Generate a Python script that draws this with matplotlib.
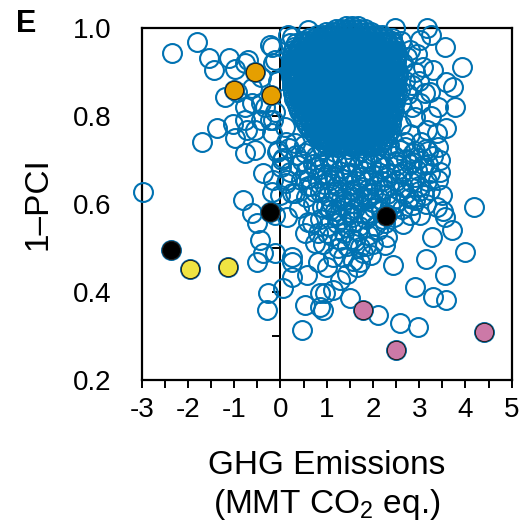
import numpy as np
import matplotlib
matplotlib.use("Agg")
import matplotlib.pyplot as plt

plt.rcParams.update({
    "font.family": ["Liberation Sans", "DejaVu Sans"],
    "mathtext.fontset": "custom",
    "mathtext.rm": "Liberation Sans",
    "mathtext.it": "Liberation Sans:italic",
    "axes.unicode_minus": False,
    "font.size": 20,
})
BLUE = "#0072B2"

# dense core of the cloud: one y level per row, x centres read across it
core_y = [1.004, 0.997, 0.990, 0.984, 0.978, 0.971, 0.965, 0.958, 0.951, 0.944,
          0.937, 0.930, 0.923, 0.916, 0.909, 0.902, 0.895, 0.888, 0.881, 0.874,
          0.867, 0.860, 0.853, 0.846, 0.839, 0.832, 0.825, 0.818, 0.811, 0.804,
          0.797, 0.790, 0.783, 0.776, 0.769, 0.762, 0.755, 0.748, 0.741, 0.734]
core_x = [
    [1.42, 1.55, 1.67],
    [1.2, 1.32, 1.45, 1.58, 1.7, 1.82],
    [0.98, 1.11, 1.23, 1.35, 1.46, 1.58, 1.71, 1.84, 1.96],
    [0.8, 0.92, 1.04, 1.15, 1.27, 1.38, 1.5, 1.62, 1.73, 1.85, 1.97, 2.09, 2.2],
    [0.62, 0.75, 0.86, 0.98, 1.09, 1.21, 1.32, 1.44, 1.55, 1.67, 1.78, 1.9, 2.03, 2.15, 2.29, 2.42],
    [0.48, 0.6, 0.71, 0.82, 0.93, 1.05, 1.16, 1.27, 1.38, 1.49, 1.61, 1.72, 1.83, 1.95, 2.06, 2.18, 2.3, 2.41],
    [0.34, 0.47, 0.58, 0.7, 0.81, 0.92, 1.04, 1.15, 1.27, 1.38, 1.5, 1.61, 1.72, 1.84, 1.95, 2.07, 2.19, 2.31, 2.44],
    [0.3, 0.41, 0.53, 0.64, 0.76, 0.87, 0.98, 1.1, 1.21, 1.32, 1.44, 1.55, 1.67, 1.78, 1.89, 2.01, 2.12, 2.24, 2.36, 2.48],
    [0.27, 0.39, 0.51, 0.62, 0.74, 0.85, 0.97, 1.08, 1.2, 1.31, 1.43, 1.54, 1.66, 1.77, 1.89, 2.0, 2.12, 2.23, 2.35, 2.47],
    [0.25, 0.36, 0.48, 0.59, 0.7, 0.82, 0.93, 1.05, 1.16, 1.28, 1.39, 1.51, 1.62, 1.74, 1.85, 1.97, 2.08, 2.2, 2.31, 2.43, 2.53],
    [0.24, 0.34, 0.45, 0.57, 0.68, 0.8, 0.91, 1.03, 1.14, 1.26, 1.37, 1.49, 1.6, 1.72, 1.83, 1.95, 2.06, 2.18, 2.29, 2.41, 2.52],
    [0.23, 0.32, 0.43, 0.55, 0.66, 0.78, 0.89, 1.01, 1.12, 1.24, 1.35, 1.47, 1.58, 1.7, 1.81, 1.93, 2.04, 2.16, 2.27, 2.39, 2.51],
    [0.22, 0.31, 0.42, 0.54, 0.65, 0.77, 0.88, 1.0, 1.11, 1.23, 1.34, 1.46, 1.57, 1.69, 1.8, 1.92, 2.03, 2.15, 2.26, 2.38, 2.5],
    [0.23, 0.3, 0.41, 0.52, 0.64, 0.75, 0.87, 0.98, 1.1, 1.21, 1.33, 1.44, 1.56, 1.67, 1.79, 1.9, 2.02, 2.13, 2.25, 2.36, 2.48],
    [0.22, 0.29, 0.4, 0.51, 0.63, 0.74, 0.86, 0.97, 1.09, 1.2, 1.32, 1.43, 1.55, 1.66, 1.78, 1.89, 2.01, 2.12, 2.24, 2.35, 2.46],
    [0.21, 0.28, 0.39, 0.5, 0.62, 0.73, 0.85, 0.96, 1.08, 1.19, 1.31, 1.42, 1.54, 1.65, 1.77, 1.88, 2.0, 2.11, 2.23, 2.34, 2.46, 2.55],
    [0.22, 0.28, 0.39, 0.5, 0.61, 0.72, 0.84, 0.95, 1.06, 1.18, 1.29, 1.41, 1.52, 1.64, 1.75, 1.87, 1.98, 2.1, 2.21, 2.33, 2.44, 2.55],
    [0.23, 0.29, 0.4, 0.51, 0.63, 0.74, 0.86, 0.97, 1.09, 1.2, 1.32, 1.43, 1.55, 1.66, 1.78, 1.89, 2.01, 2.12, 2.24, 2.35, 2.47],
    [0.24, 0.3, 0.41, 0.53, 0.64, 0.76, 0.87, 0.99, 1.1, 1.22, 1.33, 1.45, 1.56, 1.68, 1.79, 1.91, 2.02, 2.14, 2.25, 2.37, 2.48],
    [0.25, 0.31, 0.43, 0.54, 0.66, 0.77, 0.89, 1.0, 1.12, 1.23, 1.35, 1.46, 1.58, 1.69, 1.81, 1.92, 2.04, 2.15, 2.27, 2.38, 2.49],
    [0.26, 0.33, 0.44, 0.56, 0.67, 0.79, 0.9, 1.02, 1.13, 1.25, 1.36, 1.48, 1.59, 1.71, 1.82, 1.94, 2.05, 2.17, 2.28, 2.4, 2.5],
    [0.27, 0.35, 0.47, 0.58, 0.7, 0.81, 0.93, 1.04, 1.16, 1.27, 1.39, 1.5, 1.62, 1.73, 1.85, 1.96, 2.08, 2.19, 2.31, 2.42, 2.52],
    [0.28, 0.37, 0.49, 0.6, 0.72, 0.83, 0.95, 1.06, 1.18, 1.29, 1.41, 1.52, 1.64, 1.75, 1.87, 1.98, 2.1, 2.21, 2.33, 2.46],
    [0.29, 0.4, 0.51, 0.63, 0.74, 0.86, 0.97, 1.09, 1.2, 1.32, 1.43, 1.55, 1.66, 1.78, 1.89, 2.01, 2.12, 2.24, 2.35, 2.45],
    [0.3, 0.42, 0.53, 0.65, 0.76, 0.88, 0.99, 1.11, 1.22, 1.34, 1.45, 1.57, 1.68, 1.8, 1.91, 2.03, 2.14, 2.26, 2.37, 2.47],
    [0.33, 0.44, 0.56, 0.67, 0.79, 0.9, 1.02, 1.13, 1.25, 1.36, 1.48, 1.59, 1.71, 1.82, 1.94, 2.05, 2.17, 2.28, 2.4, 2.48],
    [0.35, 0.47, 0.58, 0.7, 0.81, 0.93, 1.04, 1.16, 1.27, 1.39, 1.5, 1.62, 1.73, 1.85, 1.96, 2.08, 2.19, 2.31, 2.44],
    [0.38, 0.5, 0.61, 0.73, 0.84, 0.96, 1.07, 1.19, 1.3, 1.42, 1.53, 1.65, 1.76, 1.88, 1.99, 2.11, 2.22, 2.34, 2.44],
    [0.4, 0.52, 0.63, 0.75, 0.86, 0.98, 1.09, 1.21, 1.32, 1.44, 1.55, 1.67, 1.78, 1.9, 2.01, 2.13, 2.24, 2.36, 2.45],
    [0.44, 0.56, 0.67, 0.79, 0.9, 1.02, 1.13, 1.25, 1.36, 1.48, 1.59, 1.71, 1.82, 1.94, 2.05, 2.17, 2.28, 2.4],
    [0.48, 0.6, 0.71, 0.83, 0.94, 1.06, 1.17, 1.29, 1.4, 1.52, 1.63, 1.75, 1.86, 1.98, 2.09, 2.21, 2.32, 2.42],
    [0.52, 0.63, 0.75, 0.86, 0.98, 1.09, 1.21, 1.32, 1.44, 1.55, 1.67, 1.78, 1.9, 2.01, 2.13, 2.24, 2.36],
    [0.55, 0.67, 0.78, 0.9, 1.01, 1.13, 1.24, 1.36, 1.47, 1.59, 1.7, 1.82, 1.93, 2.05, 2.16, 2.28, 2.4],
    [0.6, 0.72, 0.84, 0.95, 1.07, 1.18, 1.3, 1.41, 1.53, 1.64, 1.76, 1.87, 1.99, 2.1, 2.22, 2.33],
    [0.66, 0.78, 0.89, 1.01, 1.12, 1.24, 1.35, 1.47, 1.58, 1.7, 1.81, 1.93, 2.04, 2.16, 2.27, 2.36],
    [0.72, 0.84, 0.95, 1.07, 1.18, 1.3, 1.41, 1.53, 1.64, 1.76, 1.87, 1.99, 2.1, 2.22, 2.32],
    [0.78, 0.9, 1.01, 1.13, 1.24, 1.36, 1.47, 1.59, 1.7, 1.82, 1.93, 2.05, 2.16, 2.3],
    [0.85, 0.97, 1.08, 1.2, 1.31, 1.43, 1.54, 1.66, 1.77, 1.89, 2.0, 2.12, 2.24],
    [0.92, 1.04, 1.15, 1.27, 1.38, 1.5, 1.61, 1.73, 1.84, 1.96, 2.08, 2.2],
    [1.0, 1.12, 1.23, 1.35, 1.46, 1.58, 1.69, 1.81, 1.92, 2.04, 2.15],
]

# looser band under the core
mesh_x = [-0.08, 0.06, 0.18, 0.33, 0.47, 0.62, 0.78, 0.92, 1.05, 1.18, 1.33, 1.47, 1.6, 1.74,
          1.88, 2.02, 2.16, 2.3, 2.45, 2.58, 2.72, 2.86, 3.0, 3.14, 3.3,
          0.02, 0.2, 0.38, 0.55, 0.7, 0.86, 1.0, 1.12, 1.26, 1.4, 1.53, 1.67, 1.81, 1.95,
          2.1, 2.24, 2.38, 2.52, 2.66, 2.8, 2.95, 3.1, 3.24,
          -0.15, 0.12, 0.45, 0.66, 0.8, 0.95, 1.08, 1.22, 1.36, 1.5, 1.63, 1.77, 1.9, 2.05,
          2.2, 2.35, 2.5, 2.65, 2.82, 3.0, 3.18,
          0.0, 0.32, 0.55, 0.75, 1.02, 1.15, 1.3, 1.44, 1.58, 1.7, 1.84, 2.0, 2.15, 2.3,
          2.45, 2.7, 2.9, 3.1,
          0.4, 0.7, 0.98, 1.18, 1.33, 1.46, 1.62, 1.78, 2.02, 2.18, 2.38, 2.62, 2.86, 3.15,
          0.6, 0.85, 1.03, 1.3, 1.42, 1.57, 1.7, 1.85, 2.05, 2.22, 2.45, 2.65,
          0.82, 1.12, 1.38, 1.55, 1.68, 1.9, 2.12,
          0.92, 1.25, 1.45, 1.62, 1.85, 2.0,
          1.35, 1.58, 1.95,
          0.9, 1.25, 1.55, 1.95, 2.35, 2.7, 0.5, 0.12,
          0.95, 1.2, 1.5, 1.82, 2.15, 2.5, 2.85, 3.2,
          0.62, 0.9, 1.15, 1.45, 1.75, 2.0, 2.3, 2.6, 2.9,
          0.85, 1.22, 1.52, 1.9, 2.25, 2.58, 3.0,
          1.1, 1.4, 1.7, 1.98, 2.5,
          1.2, 1.55, 1.9, 2.3]
mesh_y = [0.718, 0.705, 0.727, 0.712, 0.698, 0.722, 0.708, 0.726, 0.703, 0.719, 0.707, 0.724, 0.709, 0.721,
          0.704, 0.718, 0.706, 0.725, 0.710, 0.722, 0.703, 0.717, 0.705, 0.724, 0.709,
          0.685, 0.672, 0.688, 0.676, 0.690, 0.680, 0.668, 0.688, 0.674, 0.690, 0.671, 0.686, 0.676, 0.690,
          0.672, 0.684, 0.670, 0.688, 0.675, 0.690, 0.678, 0.688, 0.670,
          0.655, 0.648, 0.655, 0.642, 0.658, 0.645, 0.655, 0.640, 0.656, 0.643, 0.652, 0.639, 0.655, 0.642,
          0.653, 0.640, 0.652, 0.638, 0.650, 0.640, 0.652,
          0.620, 0.625, 0.615, 0.628, 0.618, 0.628, 0.612, 0.625, 0.615, 0.626, 0.611, 0.624, 0.612, 0.623,
          0.612, 0.622, 0.610, 0.620,
          0.590, 0.600, 0.595, 0.585, 0.598, 0.582, 0.590, 0.580, 0.592, 0.585, 0.596, 0.588, 0.598, 0.600,
          0.560, 0.565, 0.550, 0.565, 0.548, 0.560, 0.550, 0.565, 0.550, 0.565, 0.570, 0.555,
          0.535, 0.528, 0.535, 0.520, 0.538, 0.530, 0.540,
          0.510, 0.500, 0.505, 0.515, 0.505, 0.510,
          0.480, 0.470, 0.485,
          0.732, 0.730, 0.735, 0.732, 0.735, 0.740, 0.735, 0.740,
          0.695, 0.697, 0.695, 0.695, 0.692, 0.698, 0.695, 0.690,
          0.660, 0.668, 0.663, 0.668, 0.662, 0.667, 0.662, 0.668, 0.662,
          0.628, 0.630, 0.632, 0.635, 0.635, 0.630, 0.630,
          0.605, 0.610, 0.607, 0.605, 0.605,
          0.575, 0.570, 0.580, 0.578]

# scattered circles around the cloud
open_x = [-2.34, -1.80, -1.545, -1.44, -1.11, -0.98, -0.70, -0.23, 0.17, 0.21, 0.60,
          -1.20, -0.77, -0.62, -1.38, -1.70, -1.02, -0.73, -0.41, -0.33, -0.98, -0.19,
          -2.97, -0.77, -0.41, -0.16, -0.05, -0.62, -0.41, -0.12, -0.77, -0.55, -0.16,
          -0.95, 0.24, -0.19, -0.12, -0.23, 0.10, 0.31, -0.05, 0.53,
          -0.77, -0.55, -0.37, -0.80, -0.62, -0.51, -0.19, -0.12, 0.14, -0.44, -0.37,
          -0.12, 0.14, 0.24, 0.60, 0.53, 0.75, 0.24, 0.68, 0.89, 0.75, 0.03, -0.51,
          -0.26, -0.30, 0.06, 0.24, 0.57, 0.53, 0.46, 0.86, 0.86, 0.24, 0.82,
          2.44, 3.15, 3.56, 2.91, 3.30, 3.59, 2.12, 2.58, 2.98, 1.50, 1.14, 0.96,
          0.93, 1.29, 1.43, 1.65, 1.72, 1.00, 3.99,
          4.18, 3.70, 3.27, 2.30, 2.26, 2.26, 3.52, 3.56, 3.02, 2.80, 3.38, 3.41,
          3.45, 3.23, 2.77, 2.51, 1.72, 1.79, 1.29, 1.22, 1.00, 1.50, 1.07, 1.58,
          1.90, 1.94, 1.14, 3.45, 3.50,
          3.56, 3.92, 3.17, 3.25, 2.48, 3.02, 3.74, 3.59, 3.77, 3.41, 3.23, 3.30,
          3.09, 2.80, 2.73, 3.59, 3.38, 3.13, 3.02, 3.16, 2.91,
          2.60, 2.65, 2.70, 2.75, 2.60, 2.85, 2.90, 2.95, 2.60, 2.80, 2.70, 2.90,
          3.05, 3.20, 2.85, 2.55, 2.58, 3.00, 3.25, 3.40]
open_y = [0.943, 0.969, 0.931, 0.905, 0.931, 0.908, 0.927, 0.961, 0.984, 0.965, 0.995,
          0.844, 0.821, 0.863, 0.772, 0.742, 0.783, 0.768, 0.791, 0.821, 0.749, 0.761,
          0.628, 0.920, 0.889, 0.920, 0.880, 0.829, 0.830, 0.810, 0.790, 0.768, 0.790,
          0.855, 0.980, 0.958, 0.927, 0.790, 0.776, 0.738, 0.723, 0.716,
          0.715, 0.723, 0.670, 0.609, 0.579, 0.556, 0.628, 0.575, 0.571, 0.518, 0.488,
          0.488, 0.655, 0.625, 0.640, 0.533, 0.511, 0.480, 0.556, 0.594, 0.685, 0.700, 0.469,
          0.397, 0.359, 0.408, 0.435, 0.439, 0.370, 0.314, 0.397, 0.367, 0.469, 0.469,
          0.462, 0.475, 0.439, 0.412, 0.389, 0.382, 0.348, 0.329, 0.321, 0.386, 0.405, 0.397,
          0.359, 0.427, 0.442, 0.457, 0.469, 0.457, 0.490,
          0.594, 0.541, 0.526, 0.526, 0.507, 0.556, 0.583, 0.571, 0.575, 0.575, 0.594, 0.655,
          0.673, 0.632, 0.613, 0.602, 0.503, 0.488, 0.518, 0.556, 0.533, 0.579, 0.586, 0.602,
          0.613, 0.575, 0.480, 0.700, 0.620,
          0.958, 0.912, 1.000, 0.985, 0.999, 0.973, 0.867, 0.878, 0.821, 0.821, 0.855, 0.905,
          0.912, 0.950, 0.935, 0.772, 0.761, 0.852, 0.829, 0.768, 0.798,
          0.970, 0.920, 0.880, 0.850, 0.830, 0.870, 0.900, 0.940, 0.780, 0.760, 0.730, 0.720,
          0.740, 0.720, 0.820, 0.890, 0.860, 0.880, 0.800, 0.730]

# highlighted cases
orange_x = [-0.55, -1.00, -0.20]
orange_y = [0.900, 0.859, 0.848]
black_x = [-0.22, -2.37, 2.28]
black_y = [0.582, 0.495, 0.573]
yellow_x = [-1.96, -1.13]
yellow_y = [0.452, 0.456]
pink_x = [1.78, 2.49, 4.40]
pink_y = [0.358, 0.268, 0.310]

xs, ys = [], []
for y, row in zip(core_y, core_x):
    xs += row; ys += [y] * len(row)
xs += mesh_x; ys += mesh_y
xs += open_x; ys += open_y
hl = [(orange_x, orange_y, "#E69F00"), (black_x, black_y, "black"),
      (yellow_x, yellow_y, "#F0E442"), (pink_x, pink_y, "#CC79A7")]
for hx, hy, _ in hl:
    xs += hx; ys += hy

fig = plt.figure(figsize=(5.21, 5.29), dpi=100)
ax = fig.add_axes([0.272, 0.2817, 0.710, 0.6653])

ax.plot(xs, ys, "o", ms=13.6, mfc="none", mec=BLUE, mew=1.5, ls="none",
        clip_on=False, zorder=3)
for hx, hy, c in hl:
    ax.plot(hx, hy, "o", ms=13.2, mfc=c, mec="#222222", mew=0.8, ls="none",
            clip_on=False, zorder=4)

ax.set_xlim(-3, 5)
ax.set_ylim(0.2, 1.0)
for s in ax.spines.values():
    s.set_linewidth(1.6)
    s.set_zorder(2)

ax.set_xticks(np.arange(-3, 6, 1))
ax.set_xticks(np.arange(-2.5, 5, 1), minor=True)
ax.tick_params(axis="x", which="both", direction="out", length=6, width=1.4,
               labelsize=20, pad=6)
ax.set_yticks([0.2, 0.4, 0.6, 0.8, 1.0])
ax.set_yticklabels(["0.2", "0.4", "0.6", "0.8", "1.0"])
ax.tick_params(axis="y", length=0, labelsize=20, pad=22)

# axis crossing at x = 0
sec = ax.secondary_yaxis(3 / 8)
sec.spines["left"].set_linewidth(1.4)
sec.set_yticks(np.arange(0.2, 1.01, 0.1))
sec.tick_params(direction="out", length=6, width=1.4, labelleft=False)

ax.set_xlabel("GHG Emissions\n(MMT CO$_2$ eq.)", fontsize=24, labelpad=20,
              linespacing=1.2)
ax.set_ylabel("1\u2013PCI", fontsize=24, labelpad=14)
fig.text(0.03, 0.94, "E", fontsize=22, fontweight="bold")

fig.savefig("out.png", dpi=100)
